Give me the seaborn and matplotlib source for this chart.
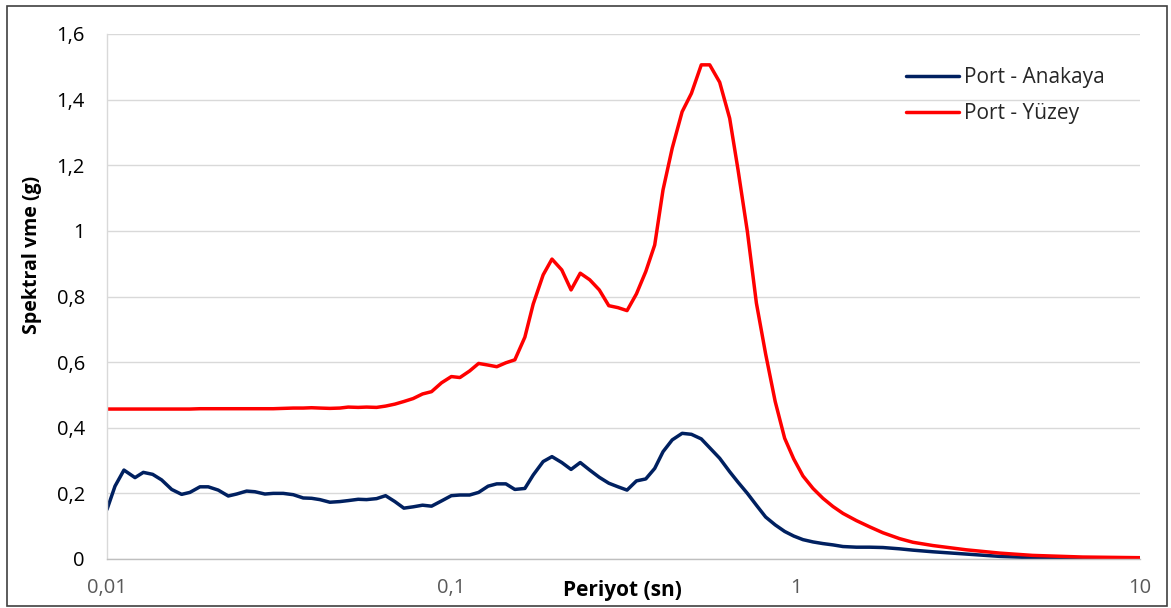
import matplotlib
matplotlib.use("Agg")
import matplotlib.pyplot as plt
import numpy as np
import pandas as pd
import seaborn as sns
from matplotlib.ticker import FixedLocator, FixedFormatter, NullLocator
from matplotlib.patches import Rectangle

# ---------------- data ----------------
periods = [
    0.0100, 0.01055, 0.01120, 0.01206, 0.01275, 0.01357, 0.01441, 0.01541, 0.01647, 0.01741,
    0.01862, 0.01968, 0.02104, 0.02250, 0.02379, 0.02544, 0.02689, 0.02875, 0.03039, 0.03249,
    0.03474, 0.03714, 0.03928, 0.04152, 0.04439, 0.04746, 0.05017, 0.05364, 0.05673, 0.06066,
    0.06442, 0.06855, 0.07280, 0.07747, 0.08249, 0.08760, 0.09366, 0.1000, 0.1059, 0.1130,
    0.1200, 0.1279, 0.1355, 0.1440, 0.1529, 0.1635, 0.1729, 0.1848, 0.1960, 0.2093,
    0.2227, 0.2368, 0.2523, 0.2690, 0.2866, 0.3049, 0.3238, 0.3448, 0.3670, 0.3896,
    0.4119, 0.4380, 0.4680, 0.4980, 0.5320, 0.5628, 0.6016, 0.6432, 0.6802, 0.7240,
    0.7690, 0.8180, 0.8720, 0.9290, 0.9870, 1.050, 1.123, 1.200, 1.283, 1.372,
    1.501, 1.640, 1.792, 2.004, 2.190, 2.503, 3.130, 3.910, 4.875, 6.810,
    10.00,
]

sa_anakaya = [
    0.151, 0.222, 0.271, 0.248, 0.264, 0.258, 0.241, 0.212, 0.197, 0.203,
    0.220, 0.220, 0.210, 0.192, 0.198, 0.207, 0.205, 0.198, 0.200, 0.200,
    0.196, 0.186, 0.185, 0.181, 0.173, 0.175, 0.178, 0.182, 0.181, 0.184,
    0.193, 0.175, 0.155, 0.159, 0.164, 0.161, 0.177, 0.193, 0.195, 0.195,
    0.203, 0.222, 0.229, 0.229, 0.212, 0.215, 0.256, 0.297, 0.312, 0.294,
    0.273, 0.294, 0.271, 0.249, 0.231, 0.220, 0.210, 0.238, 0.244, 0.276,
    0.327, 0.363, 0.383, 0.380, 0.366, 0.339, 0.307, 0.266, 0.234, 0.200,
    0.164, 0.128, 0.104, 0.084, 0.070, 0.059, 0.052, 0.047, 0.043, 0.038,
    0.036, 0.036, 0.035, 0.031, 0.027, 0.022, 0.015, 0.008, 0.004, 0.003,
    0.002,
]

sa_yuzey = [
    0.457, 0.457, 0.457, 0.457, 0.457, 0.457, 0.457, 0.457, 0.457, 0.457,
    0.458, 0.458, 0.458, 0.458, 0.458, 0.458, 0.458, 0.458, 0.458, 0.459,
    0.460, 0.460, 0.461, 0.460, 0.459, 0.460, 0.463, 0.462, 0.463, 0.462,
    0.466, 0.472, 0.480, 0.489, 0.503, 0.510, 0.537, 0.556, 0.553, 0.573,
    0.596, 0.591, 0.586, 0.598, 0.607, 0.676, 0.777, 0.866, 0.914, 0.881,
    0.820, 0.871, 0.851, 0.820, 0.772, 0.766, 0.757, 0.808, 0.876, 0.957,
    1.125, 1.252, 1.363, 1.419, 1.506, 1.506, 1.453, 1.343, 1.186, 0.998,
    0.780, 0.625, 0.480, 0.368, 0.305, 0.253, 0.215, 0.185, 0.160, 0.139,
    0.117, 0.098, 0.080, 0.062, 0.051, 0.041, 0.028, 0.018, 0.011, 0.006,
    0.004,
]

series_names = ["Port - Anakaya", "Port - Yüzey"]
series_colors = ["#002060", "#FF0000"]

x_ticks = [0.01, 0.1, 1, 10]
x_tick_labels = ["0,01", "0,1", "1", "10"]
y_ticks = [0, 0.2, 0.4, 0.6, 0.8, 1.0, 1.2, 1.4, 1.6]
y_tick_labels = ["0", "0,2", "0,4", "0,6", "0,8", "1", "1,2", "1,4", "1,6"]

x_title = "Periyot (sn)"
y_title = "Spektral vme (g)"

# ---------------- style ----------------
sns.set_theme(style="white")
plt.rcParams["font.family"] = ["Open Sans", "DejaVu Sans"]

df = pd.concat([
    pd.DataFrame({"Periyot": periods, "Sa": sa_anakaya, "Seri": series_names[0]}),
    pd.DataFrame({"Periyot": periods, "Sa": sa_yuzey, "Seri": series_names[1]}),
], ignore_index=True)

W, H = 1171, 608
fig = plt.figure(figsize=(W / 100, H / 100), dpi=100)
fig.patch.set_facecolor("white")

ax_l, ax_r, ax_t, ax_b = 107, 1140, 34, 559
ax = fig.add_axes([ax_l / W, 1 - ax_b / H, (ax_r - ax_l) / W, (ax_b - ax_t) / H])

sns.lineplot(data=df, x="Periyot", y="Sa", hue="Seri",
             palette=dict(zip(series_names, series_colors)),
             estimator=None, sort=False, linewidth=2.5, ax=ax)

ax.set_xscale("log")
ax.set_xlim(0.01, 10)
ax.set_ylim(0, 1.6)

ax.xaxis.set_major_locator(FixedLocator(x_ticks))
ax.xaxis.set_major_formatter(FixedFormatter(x_tick_labels))
ax.xaxis.set_minor_locator(NullLocator())
ax.yaxis.set_major_locator(FixedLocator(y_ticks))
ax.yaxis.set_major_formatter(FixedFormatter(y_tick_labels))

ax.tick_params(axis="x", length=0, pad=14, labelsize=14.5, labelcolor="#595959")
ax.tick_params(axis="y", length=0, pad=16, labelsize=14.5, labelcolor="#000000")

ax.yaxis.grid(True, color="#d9d9d9", linewidth=1.0)
ax.xaxis.grid(False)
ax.set_axisbelow(True)

for s in ["top", "right"]:
    ax.spines[s].set_visible(False)
ax.spines["left"].set_color("#d9d9d9")
ax.spines["left"].set_linewidth(1.0)
ax.spines["bottom"].set_color("#bfbfbf")
ax.spines["bottom"].set_linewidth(1.0)

ax.set_xlabel("")
ax.set_ylabel("")

handles, labels = ax.get_legend_handles_labels()
leg = ax.legend(handles, labels, loc="upper left",
                bbox_to_anchor=(906 / W, 1 - 67 / H), bbox_transform=fig.transFigure,
                frameon=False, borderpad=0, borderaxespad=0,
                handlelength=2.55, handletextpad=0.25, labelspacing=0.72,
                fontsize=15)
for line in leg.get_lines():
    line.set_linewidth(2.5)

fig.text(622 / W, 1 - 596 / H, x_title, ha="center", va="baseline",
         fontsize=15, fontweight="bold", color="black")
fig.text(32 / W, 1 - 255 / H, y_title, ha="center", va="center", rotation=90,
         fontsize=14, fontweight="bold", color="black")

border = Rectangle((7 / W, 2 / H), (1167 - 7) / W, (606 - 6) / H,
                   transform=fig.transFigure, fill=False,
                   edgecolor="#404040", linewidth=1.2)
fig.patches.append(border)

fig.savefig("out.png", dpi=100)
